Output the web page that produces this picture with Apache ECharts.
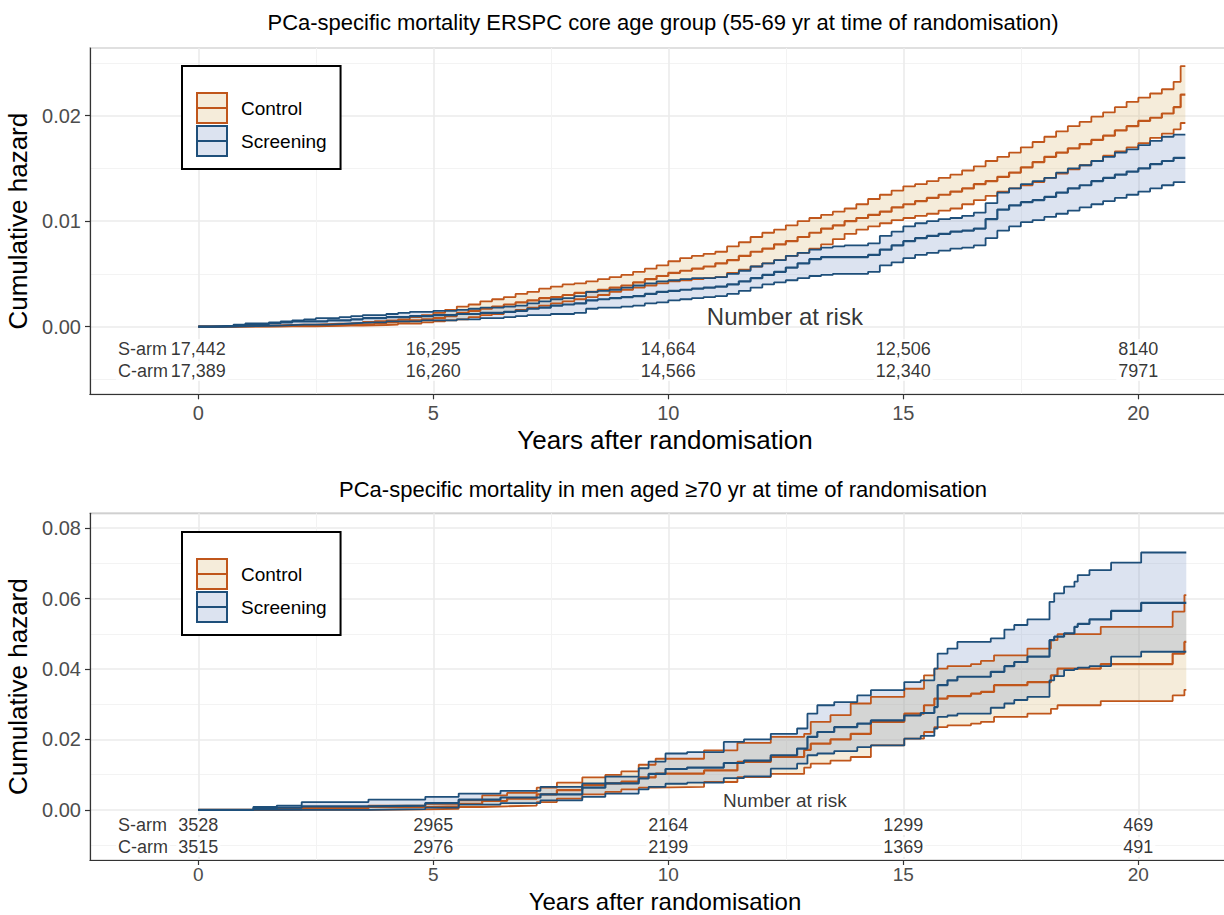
<!DOCTYPE html>
<html>
<head>
<meta charset="utf-8">
<title>PCa-specific mortality</title>
<script src="https://cdn.jsdelivr.net/npm/echarts@6.0.0/dist/echarts.min.js"></script>
<style>
html, body { margin: 0; padding: 0; background: #fff; }
#chartBox { width: 1224px; height: 915px; }
</style>
</head>
<body>
<div id="chartBox"></div>
<script>
// ---- values ----
// top panel: ERSPC core age group (55-69 yr)
var topTimes = [0, 0.25, 0.5, 0.75, 1, 1.25, 1.5, 1.75, 2, 2.25, 2.5, 2.75, 3, 3.25, 3.5, 3.75,
  4, 4.25, 4.5, 4.75, 5, 5.25, 5.5, 5.75, 6, 6.25, 6.5, 6.75, 7, 7.25, 7.5, 7.75,
  8, 8.25, 8.5, 8.75, 9, 9.25, 9.5, 9.75, 10, 10.25, 10.5, 10.75, 11, 11.25, 11.5, 11.75,
  12, 12.25, 12.5, 12.75, 13, 13.25, 13.5, 13.75, 14, 14.25, 14.5, 14.75, 15, 15.25, 15.5, 15.75,
  16, 16.25, 16.5, 16.75, 17, 17.25, 17.5, 17.75, 18, 18.25, 18.5, 18.75, 19, 19.25, 19.5, 19.75,
  20, 20.25, 20.5, 20.75, 20.9, 21];

var topCtrlUpper = [0, 0, 0.00005, 0.00008, 0.0001, 0.0001, 0.00013, 0.00017, 0.0002, 0.0002, 0.00025, 0.00028,
  0.0003, 0.00035, 0.00045, 0.00052, 0.0006, 0.0007, 0.0009, 0.0011, 0.0013, 0.0016, 0.0019, 0.0021,
  0.0024, 0.0026, 0.0028, 0.0031, 0.0033, 0.0036, 0.0038, 0.0040, 0.0041, 0.0043, 0.0045, 0.0047,
  0.0049, 0.0052, 0.0055, 0.0058, 0.0062, 0.0065, 0.0067, 0.0069, 0.0071, 0.0076, 0.0080, 0.0085,
  0.0089, 0.0092, 0.0096, 0.0100, 0.0103, 0.0106, 0.0109, 0.0112, 0.0116, 0.0121, 0.0125, 0.0129,
  0.0133, 0.0135, 0.0138, 0.0141, 0.0144, 0.0148, 0.0152, 0.0157, 0.0161, 0.0165, 0.0170, 0.0175,
  0.0180, 0.0185, 0.0190, 0.0194, 0.0199, 0.0203, 0.0208, 0.0213, 0.0217, 0.0221, 0.0225, 0.0232,
  0.0247, 0.0247];
var topCtrlMid = [0, 0, 0, 0.00003, 0.00005, 0.00005, 0.00008, 0.0001, 0.0001, 0.0001, 0.00012, 0.00014,
  0.00016, 0.0002, 0.00025, 0.00032, 0.0004, 0.0005, 0.0006, 0.0007, 0.0008, 0.0010, 0.0013, 0.0015,
  0.0017, 0.0019, 0.0021, 0.0023, 0.0025, 0.0027, 0.0028, 0.0030, 0.0032, 0.0033, 0.0035, 0.0037,
  0.0039, 0.0042, 0.0045, 0.0048, 0.0051, 0.0053, 0.0055, 0.0057, 0.0060, 0.0063, 0.0067, 0.0071,
  0.0074, 0.0078, 0.0081, 0.0085, 0.0089, 0.0093, 0.0096, 0.0100, 0.0103, 0.0106, 0.0109, 0.0113,
  0.0116, 0.0119, 0.0122, 0.0125, 0.0128, 0.0131, 0.0135, 0.0138, 0.0142, 0.0146, 0.0151, 0.0156,
  0.0161, 0.0165, 0.0169, 0.0173, 0.0177, 0.0181, 0.0186, 0.0190, 0.0195, 0.0198, 0.0202, 0.0208,
  0.0220, 0.0220];
var topCtrlLower = [0, 0, 0, 0, 0, 0, 0.00001, 0.00002, 0.00003, 0.00004, 0.00005, 0.00007,
  0.0001, 0.0001, 0.00013, 0.00016, 0.0002, 0.0003, 0.0003, 0.0004, 0.0005, 0.0006, 0.0007, 0.0009,
  0.0011, 0.0012, 0.0014, 0.0016, 0.0018, 0.0020, 0.0022, 0.0024, 0.0026, 0.0028, 0.0030, 0.0033,
  0.0035, 0.0037, 0.0039, 0.0041, 0.0043, 0.0044, 0.0045, 0.0046, 0.0047, 0.0051, 0.0054, 0.0057,
  0.0060, 0.0063, 0.0067, 0.0070, 0.0074, 0.0078, 0.0083, 0.0088, 0.0092, 0.0095, 0.0098, 0.0101,
  0.0103, 0.0105, 0.0107, 0.0110, 0.0112, 0.0116, 0.0120, 0.0124, 0.0128, 0.0131, 0.0134, 0.0137,
  0.0141, 0.0145, 0.0149, 0.0153, 0.0157, 0.0162, 0.0166, 0.0170, 0.0174, 0.0179, 0.0183, 0.0187,
  0.0193, 0.0193];

var topScrUpper = [0, 0.00005, 0.0001, 0.0002, 0.0003, 0.0003, 0.0004, 0.0005, 0.0006, 0.0007, 0.0008, 0.0008,
  0.0009, 0.0010, 0.0011, 0.0011, 0.0012, 0.0013, 0.0014, 0.0014, 0.0015, 0.0015, 0.0016, 0.0017,
  0.0018, 0.0018, 0.0019, 0.0020, 0.0022, 0.0024, 0.0026, 0.0027, 0.0029, 0.0033, 0.0034, 0.0035,
  0.0037, 0.0039, 0.0041, 0.0043, 0.0044, 0.0045, 0.0046, 0.0046, 0.0047, 0.0050, 0.0053, 0.0057,
  0.0060, 0.0063, 0.0067, 0.0070, 0.0073, 0.0075, 0.0076, 0.0077, 0.0077, 0.0079, 0.0086, 0.0090,
  0.0095, 0.0098, 0.0100, 0.0102, 0.0103, 0.0105, 0.0108, 0.0117, 0.0127, 0.0131, 0.0135, 0.0138,
  0.0141, 0.0146, 0.0150, 0.0153, 0.0157, 0.0161, 0.0165, 0.0168, 0.0172, 0.0176, 0.0180, 0.0182,
  0.0182, 0.0182];
var topScrMid = [0, 0, 0.00005, 0.0001, 0.0002, 0.0002, 0.0003, 0.0004, 0.0005, 0.0005, 0.0005, 0.0006,
  0.0006, 0.0007, 0.0008, 0.0008, 0.0009, 0.0009, 0.0010, 0.0010, 0.0011, 0.0011, 0.0012, 0.0012,
  0.0013, 0.0013, 0.0014, 0.0015, 0.0017, 0.0018, 0.0020, 0.0021, 0.0022, 0.0025, 0.0026, 0.0027,
  0.0028, 0.0029, 0.0031, 0.0033, 0.0034, 0.0035, 0.0036, 0.0037, 0.0038, 0.0040, 0.0043, 0.0046,
  0.0049, 0.0052, 0.0056, 0.0060, 0.0064, 0.0066, 0.0066, 0.0066, 0.0066, 0.0068, 0.0073, 0.0077,
  0.0081, 0.0084, 0.0086, 0.0088, 0.0090, 0.0091, 0.0093, 0.0102, 0.0111, 0.0115, 0.0118, 0.0120,
  0.0123, 0.0127, 0.0131, 0.0134, 0.0138, 0.0141, 0.0144, 0.0147, 0.0150, 0.0154, 0.0157, 0.0160,
  0.0160, 0.0160];
var topScrLower = [0, 0, 0, 0.00003, 0.00006, 0.00008, 0.0001, 0.00015, 0.0002, 0.0002, 0.0002, 0.00025,
  0.0003, 0.00035, 0.0004, 0.0004, 0.0005, 0.0005, 0.0005, 0.0006, 0.0006, 0.0006, 0.0007, 0.0007,
  0.0008, 0.0008, 0.0009, 0.0010, 0.0011, 0.0011, 0.0012, 0.0012, 0.0013, 0.0017, 0.0018, 0.0018,
  0.0019, 0.0020, 0.0022, 0.0023, 0.0025, 0.0026, 0.0027, 0.0028, 0.0029, 0.0031, 0.0034, 0.0037,
  0.0040, 0.0042, 0.0044, 0.0046, 0.0048, 0.0049, 0.0050, 0.0050, 0.0050, 0.0052, 0.0058, 0.0061,
  0.0065, 0.0068, 0.0070, 0.0072, 0.0074, 0.0075, 0.0077, 0.0084, 0.0091, 0.0095, 0.0099, 0.0101,
  0.0104, 0.0107, 0.0110, 0.0113, 0.0116, 0.0119, 0.0122, 0.0125, 0.0128, 0.0131, 0.0134, 0.0137,
  0.0137, 0.0137];

// bottom panel: men aged >=70 yr
var botScrTimes = [0, 1.17, 1.67, 2.2, 3.62, 4.83, 5.54, 6.43, 7.28, 8.17, 8.66, 9.37, 9.58, 9.94,
  10.40, 11.18, 11.61, 12.18, 12.74, 12.96, 13.17, 13.53, 14.02, 14.31, 15.02, 15.37, 15.66, 15.73,
  15.94, 16.15, 16.86, 17.15, 17.36, 17.64, 18.11, 18.21, 18.42, 18.64, 18.71, 18.96, 19.42, 20.06, 21.02];
var botScrUpper = [0, 0.0008, 0.0012, 0.0022, 0.0029, 0.0037, 0.0046, 0.0054, 0.0065, 0.0075, 0.0094, 0.0118, 0.0137, 0.0160,
  0.0164, 0.0193, 0.0200, 0.0216, 0.0231, 0.0273, 0.0297, 0.0306, 0.0325, 0.0340, 0.0363, 0.0368, 0.0401, 0.0444,
  0.0458, 0.0477, 0.0487, 0.0512, 0.0525, 0.0541, 0.0591, 0.0615, 0.0634, 0.0648, 0.0667, 0.0681, 0.0702, 0.0731, 0.0731];
var botScrMid = [0, 0.0003, 0.0006, 0.0010, 0.0012, 0.0019, 0.0029, 0.0035, 0.0044, 0.0063, 0.0075, 0.0089, 0.0102, 0.0116,
  0.0120, 0.0133, 0.0140, 0.0155, 0.0174, 0.0207, 0.0221, 0.0235, 0.0245, 0.0254, 0.0268, 0.0275, 0.0292, 0.0354,
  0.0368, 0.0378, 0.0392, 0.0408, 0.0420, 0.0435, 0.0482, 0.0492, 0.0501, 0.0520, 0.0528, 0.0541, 0.0565, 0.0588, 0.0588];
var botScrLower = [0, 0, 0, 0, 0.0002, 0.0006, 0.0015, 0.0019, 0.0027, 0.0037, 0.0046, 0.0058, 0.0065, 0.0074,
  0.0077, 0.0090, 0.0095, 0.0117, 0.0131, 0.0155, 0.0160, 0.0167, 0.0178, 0.0183, 0.0202, 0.0210, 0.0231, 0.0264,
  0.0268, 0.0273, 0.0290, 0.0302, 0.0312, 0.0321, 0.0368, 0.0380, 0.0397, 0.0400, 0.0404, 0.0408, 0.0435, 0.0449, 0.0449];

var botCtrlTimes = [0, 1.67, 2.2, 3.62, 4.83, 5.54, 6.04, 6.57, 7.2, 7.63, 8.17, 8.66, 9.0, 9.37, 9.73,
  10.76, 11.47, 12.18, 12.89, 13.03, 13.45, 13.88, 14.31, 15.02, 15.44, 15.66, 15.94, 16.44, 16.65, 16.93,
  17.64, 18.14, 18.28, 19.20, 20.73, 20.98, 21.02];
var botCtrlUpper = [0, 0.0003, 0.0006, 0.0012, 0.0017, 0.0027, 0.0041, 0.0048, 0.0063, 0.0077, 0.0092, 0.0099, 0.0109, 0.0128, 0.0145,
  0.0169, 0.0190, 0.0207, 0.0216, 0.0250, 0.0269, 0.0302, 0.0321, 0.0344, 0.0382, 0.0401, 0.0408, 0.0414, 0.0423, 0.0439,
  0.0458, 0.0482, 0.0499, 0.0520, 0.0563, 0.0610, 0.0610];
var botCtrlMid = [0, 0.0001, 0.0004, 0.0008, 0.0010, 0.0017, 0.0025, 0.0032, 0.0044, 0.0056, 0.0070, 0.0075, 0.0080, 0.0092, 0.0103,
  0.0112, 0.0136, 0.0150, 0.0170, 0.0188, 0.0200, 0.0216, 0.0250, 0.0273, 0.0297, 0.0316, 0.0323, 0.0330, 0.0335, 0.0354,
  0.0363, 0.0382, 0.0401, 0.0414, 0.0444, 0.0477, 0.0477];
var botCtrlLower = [0, 0, 0, 0.0001, 0.0003, 0.0008, 0.0010, 0.0012, 0.0022, 0.0032, 0.0044, 0.0051, 0.0058, 0.0063, 0.0065,
  0.0079, 0.0093, 0.0102, 0.0120, 0.0131, 0.0140, 0.0150, 0.0183, 0.0202, 0.0221, 0.0235, 0.0240, 0.0245, 0.0250, 0.0264,
  0.0273, 0.0287, 0.0297, 0.0309, 0.0325, 0.0341, 0.0341];

// number at risk
var riskYears = [0, 5, 10, 15, 20];
var topRiskS = [17442, 16295, 14664, 12506, 8140];
var topRiskC = [17389, 16260, 14566, 12340, 7971];
var botRiskS = [3528, 2965, 2164, 1299, 469];
var botRiskC = [3515, 2976, 2199, 1369, 491];

var topTitle = 'PCa-specific mortality ERSPC core age group (55-69 yr at time of randomisation)';
var botTitle = 'PCa-specific mortality in men aged \u226570 yr at time of randomisation';

// ---- styling ----
var FONT = "'Liberation Sans', Arial, Helvetica, sans-serif";
var CTRL_LINE = '#C0561B', CTRL_FILL = 'rgba(215,179,107,0.25)', CTRL_KEY = '#F5ECDA';
var SCR_LINE = '#1E4F7A', SCR_FILL = 'rgba(115,143,195,0.25)', SCR_KEY = '#DCE3F0';
var KEY = 'path://M0,0H30V30H0ZM0,15H30';

function pts(ts, vs) {
  return ts.map(function (t, i) { return [t, vs[i]]; });
}
function fmt(n) {
  return n >= 10000 ? n.toLocaleString('en-US') : String(n);
}

// confidence band: one step-shaped polygon, drawn through the grid's coordinate system
function bandSeries(name, gi, ts, lo, up, fill) {
  return {
    name: name, type: 'custom', xAxisIndex: gi, yAxisIndex: gi, silent: true,
    data: ts.map(function (t, i) { return [t, lo[i], up[i]]; }),
    encode: { x: 0, y: [1, 2] },
    renderItem: function (params, api) {
      if (params.dataIndex !== 0) return null;
      var upper = [], lower = [];
      for (var i = 0; i < ts.length; i++) {
        var next = i + 1 < ts.length ? ts[i + 1] : ts[i];
        upper.push(api.coord([ts[i], up[i]]), api.coord([next, up[i]]));
        lower.push(api.coord([ts[i], lo[i]]), api.coord([next, lo[i]]));
      }
      return {
        type: 'polygon',
        shape: { points: upper.concat(lower.reverse()) },
        style: { fill: fill, stroke: null }
      };
    }
  };
}

function stepLine(name, gi, ts, vs, color, width) {
  return {
    name: name, type: 'line', xAxisIndex: gi, yAxisIndex: gi, step: 'end', symbol: 'none',
    silent: true, data: pts(ts, vs), itemStyle: { color: color }, lineStyle: { color: color, width: width }
  };
}

function armSeries(name, gi, ts, lo, mid, up, line, fill) {
  return [
    bandSeries(name, gi, ts, lo, up, fill),
    stepLine(name, gi, ts, lo, line, 1.8),
    stepLine(name, gi, ts, up, line, 1.8),
    stepLine(name, gi, ts, mid, line, 2.2)
  ];
}

function riskSeries(gi, sVals, cVals, rowS, rowC, narY, narSize) {
  var data = [
    { value: [-1.751, rowS], name: 'S-arm', label: { align: 'left' } },
    { value: [-1.751, rowC], name: 'C-arm', label: { align: 'left' } },
    { value: [12.48, narY], name: 'Number at risk', label: { fontSize: narSize, backgroundColor: 'transparent' } }
  ];
  riskYears.forEach(function (yr, i) {
    data.push({ value: [yr, rowS], name: fmt(sVals[i]) });
    data.push({ value: [yr, rowC], name: fmt(cVals[i]) });
  });
  return {
    type: 'scatter', xAxisIndex: gi, yAxisIndex: gi, symbolSize: 1, silent: true, z: 5,
    itemStyle: { color: 'rgba(0,0,0,0)' },
    label: {
      show: true, position: 'inside', formatter: '{b}', fontSize: 18, color: '#000',
      fontFamily: FONT, backgroundColor: '#fff', padding: [1, 2]
    },
    data: data
  };
}

function xAxisFor(gi, nameGap, nameSize, labelSize, labelMargin) {
  return {
    type: 'value', gridIndex: gi, min: -2.304, max: 21.95,
    name: 'Years after randomisation', nameLocation: 'middle', nameGap: nameGap, nameMoveOverlap: false,
    nameTextStyle: { fontSize: nameSize, color: '#000', fontFamily: FONT, padding: [0, 0, 0, 10] },
    axisLine: { onZero: false, lineStyle: { color: '#333', width: 1.2 } },
    axisTick: { length: 5, lineStyle: { color: '#333', width: 1.2 } },
    axisLabel: { showMinLabel: false, showMaxLabel: false, fontSize: labelSize, color: '#4D4D4D', fontFamily: FONT,
      margin: labelMargin },
    splitLine: { lineStyle: { color: '#EBEBEB', width: 1.6 } },
    minorTick: { show: false, splitNumber: 2 },
    minorSplitLine: { show: true, lineStyle: { color: '#F3F3F3', width: 1 } }
  };
}

function yAxisFor(gi, min, max, splitNumber) {
  return {
    type: 'value', gridIndex: gi, min: min, max: max, splitNumber: splitNumber,
    name: 'Cumulative hazard', nameLocation: 'middle', nameGap: 54,
    nameTextStyle: { fontSize: 26, color: '#000', fontFamily: FONT },
    axisLine: { show: true, onZero: false, lineStyle: { color: '#333', width: 1.2 } },
    axisTick: { show: true, length: 5, lineStyle: { color: '#333', width: 1.2 } },
    axisLabel: {
      showMinLabel: false, showMaxLabel: false, fontSize: 20, color: '#4D4D4D', fontFamily: FONT, margin: 9,
      formatter: function (v) { return v.toFixed(2); }
    },
    splitLine: { lineStyle: { color: '#EBEBEB', width: 1.6 } },
    minorTick: { show: false, splitNumber: 2 },
    minorSplitLine: { show: true, lineStyle: { color: '#F3F3F3', width: 1 } }
  };
}

function legendFor(top) {
  return {
    left: 182, top: top, orient: 'vertical', padding: [26, 14, 12, 14],
    itemWidth: 30, itemHeight: 30, itemGap: 1, selectedMode: false,
    borderColor: '#000', borderWidth: 2, backgroundColor: '#fff',
    textStyle: { fontSize: 19, color: '#000', fontFamily: FONT, padding: [0, 0, 0, 9] },
    data: [
      { name: 'Control', icon: KEY, itemStyle: { color: CTRL_KEY, borderColor: CTRL_LINE, borderWidth: 2 } },
      { name: 'Screening', icon: KEY, itemStyle: { color: SCR_KEY, borderColor: SCR_LINE, borderWidth: 2 } }
    ]
  };
}

var myChart = echarts.init(document.getElementById('chartBox'), null, { renderer: 'svg' });

var series = [].concat(
  armSeries('Control', 0, topTimes, topCtrlLower, topCtrlMid, topCtrlUpper, CTRL_LINE, CTRL_FILL),
  armSeries('Screening', 0, topTimes, topScrLower, topScrMid, topScrUpper, SCR_LINE, SCR_FILL),
  armSeries('Control', 1, botCtrlTimes, botCtrlLower, botCtrlMid, botCtrlUpper, CTRL_LINE, CTRL_FILL),
  armSeries('Screening', 1, botScrTimes, botScrLower, botScrMid, botScrUpper, SCR_LINE, SCR_FILL),
  [riskSeries(0, topRiskS, topRiskC, -0.00211, -0.0042, 0.00097, 24),
   riskSeries(1, botRiskS, botRiskC, -0.00432, -0.01057, 0.00264, 19)]
);

myChart.setOption({
  animation: false,
  backgroundColor: '#fff',
  textStyle: { fontFamily: FONT },
  title: [
    { text: topTitle, left: 663, top: 11, textAlign: 'center', padding: 0,
      textStyle: { fontSize: 22, fontWeight: 'normal', color: '#000', fontFamily: FONT } },
    { text: botTitle, left: 663, top: 478, textAlign: 'center', padding: 0,
      textStyle: { fontSize: 22, fontWeight: 'normal', color: '#000', fontFamily: FONT } }
  ],
  legend: [legendFor(66), legendFor(532)],
  grid: [
    { left: 90, top: 48, right: -6, bottom: 520.7, show: true, borderColor: '#808080', borderWidth: 1.2,
      backgroundColor: '#fff', outerBoundsMode: 'none' },
    { left: 90, top: 513.3, right: -6, bottom: 55, show: true, borderColor: '#808080', borderWidth: 1.2,
      backgroundColor: '#fff', outerBoundsMode: 'none' }
  ],
  xAxis: [xAxisFor(0, 33, 26, 20, 9), xAxisFor(1, 29, 24, 19, 5)],
  yAxis: [yAxisFor(0, -0.00641, 0.02641, 3), yAxisFor(1, -0.01426, 0.08424, 5)],
  series: series
});
</script>
</body>
</html>
